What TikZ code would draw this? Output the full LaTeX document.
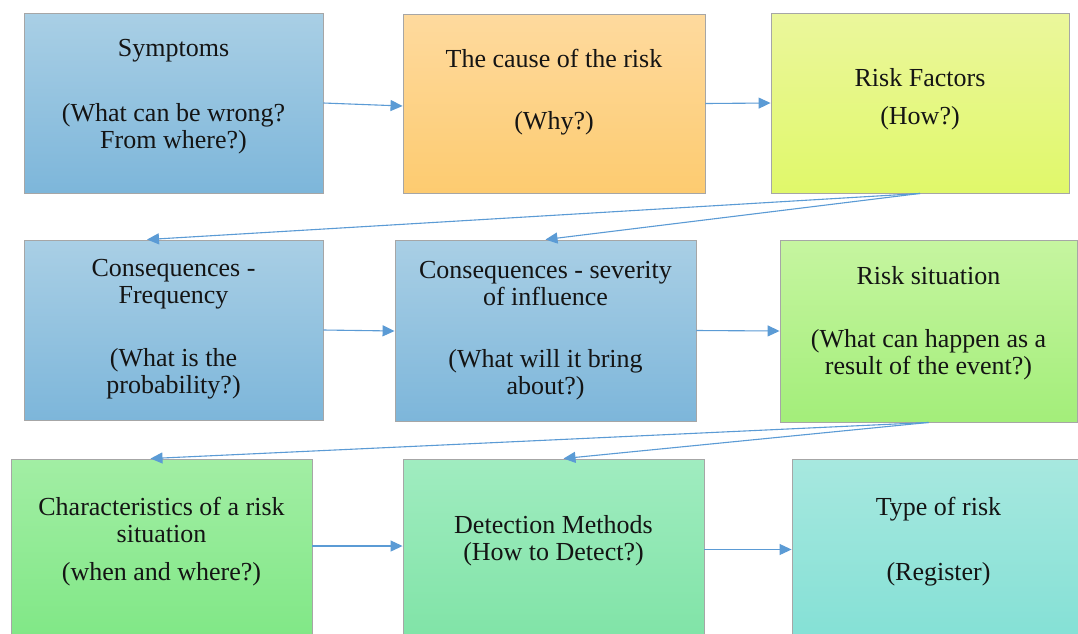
\documentclass[tikz,border=0pt]{standalone}
\usepackage{fontspec}
\setmainfont{Liberation Serif}
\usetikzlibrary{arrows.meta,calc}
\definecolor{arrowblue}{HTML}{5B9BD5}
\definecolor{boxline}{HTML}{A6A6A6}
\definecolor{txt}{HTML}{141414}
\tikzset{
  box/.style={draw=boxline, line width=0.9pt, rectangle, inner sep=0pt},
  bluebox/.style={box, top color=blue1, bottom color=blue2},
  lbl/.style={align=center, text=txt, font=\fontsize{26}{27}\selectfont, inner sep=0pt},
  conn/.style={draw=arrowblue, line width=1.1pt, -{Triangle[length=12pt,width=11pt]}},
}
\definecolor{blue1}{HTML}{A9CFE5}
\definecolor{blue2}{HTML}{7DB6DA}
\definecolor{or1}{HTML}{FEDA9E}
\definecolor{or2}{HTML}{FDCB70}
\definecolor{ye1}{HTML}{EBF79C}
\definecolor{ye2}{HTML}{E0F86A}
\definecolor{lg1}{HTML}{C6F5A0}
\definecolor{lg2}{HTML}{A3EE7A}
\definecolor{gr1}{HTML}{A2EEA4}
\definecolor{gr2}{HTML}{7FE785}
\definecolor{mg1}{HTML}{A0ECC0}
\definecolor{mg2}{HTML}{7FE3A6}
\definecolor{tq1}{HTML}{A7E8DF}
\definecolor{tq2}{HTML}{83E0D5}
\begin{document}
\begin{tikzpicture}[x=1pt,y=1pt]
\clip (0,0) rectangle (1078,-633);
\fill[white] (0,0) rectangle (1078,-633);
% boxes
\node[bluebox, minimum width=299pt, minimum height=180pt] (sym) at (173.5,-103) {};
\node[box, top color=or1, bottom color=or2, minimum width=302pt, minimum height=179pt] (cause) at (554,-103.5) {};
\node[box, top color=ye1, bottom color=ye2, minimum width=298pt, minimum height=180pt] (fac) at (920,-103) {};
\node[bluebox, minimum width=299pt, minimum height=180pt] (freq) at (173.5,-330) {};
\node[bluebox, minimum width=301pt, minimum height=181pt] (sev) at (545.5,-330.5) {};
\node[box, top color=lg1, bottom color=lg2, minimum width=297pt, minimum height=182pt] (rs) at (928.5,-331) {};
\node[box, top color=gr1, bottom color=gr2, minimum width=301pt, minimum height=186pt] (chr) at (161.5,-552) {};
\node[box, top color=mg1, bottom color=mg2, minimum width=301pt, minimum height=186pt] (det) at (553.5,-552) {};
\node[box, top color=tq1, bottom color=tq2, minimum width=293pt, minimum height=186pt] (typ) at (938.5,-552) {};
% texts
\node[lbl] (symA) at (173.5,-51) {Symptoms};
\node[lbl] (symB) at (173.5,-129) {(What can be wrong?\\From where?)};
\node[lbl] (causeA) at (554,-58) {The cause of the risk};
\node[lbl] (causeB) at (554,-123) {(Why?)};
\node[lbl] (facA) at (920,-78) {Risk Factors};
\node[lbl] (facB) at (920,-118) {(How?)};
\node[lbl] (freqA) at (173.5,-284) {Consequences -\\Frequency};
\node[lbl] (freqB) at (173.5,-374) {(What is the\\probability?)};
\node[lbl] (sevA) at (545.5,-284) {Consequences - severity\\of influence};
\node[lbl] (sevB) at (545.5,-375) {(What will it bring\\about?)};
\node[lbl] (rsA) at (928.5,-276) {Risk situation};
\node[lbl] (rsB) at (928.5,-355) {(What can happen as a\\result of the event?)};
\node[lbl] (chrA) at (161.5,-520) {Characteristics of a risk\\situation};
\node[lbl] (chrB) at (161.5,-574) {(when and where?)};
\node[lbl] (detA) at (553.5,-540.5) {Detection Methods\\(How to Detect?)};
\node[lbl] (typA) at (938.5,-509) {Type of risk};
\node[lbl] (typB) at (938.5,-574) {(Register)};
% connectors
\draw[conn] (sym.east) -- ([yshift=-2.5pt]cause.west);
\draw[conn] (cause.east) -- (fac.west);
\draw[conn] (fac.south) -- ([xshift=-26.5pt]freq.north);
\draw[conn] (fac.south) -- (sev.north);
\draw[conn] (freq.east) -- ([yshift=-0.5pt]sev.west);
\draw[conn] (sev.east) -- (rs.west);
\draw[conn] (rs.south) -- ([xshift=-11pt]chr.north);
\draw[conn] (rs.south) -- ([xshift=10pt]det.north);
\draw[conn] ([yshift=6pt]chr.east) -- ([yshift=6pt]det.west);
\draw[conn] ([yshift=2.5pt]det.east) -- ([yshift=2.5pt]typ.west);
\end{tikzpicture}
\end{document}
